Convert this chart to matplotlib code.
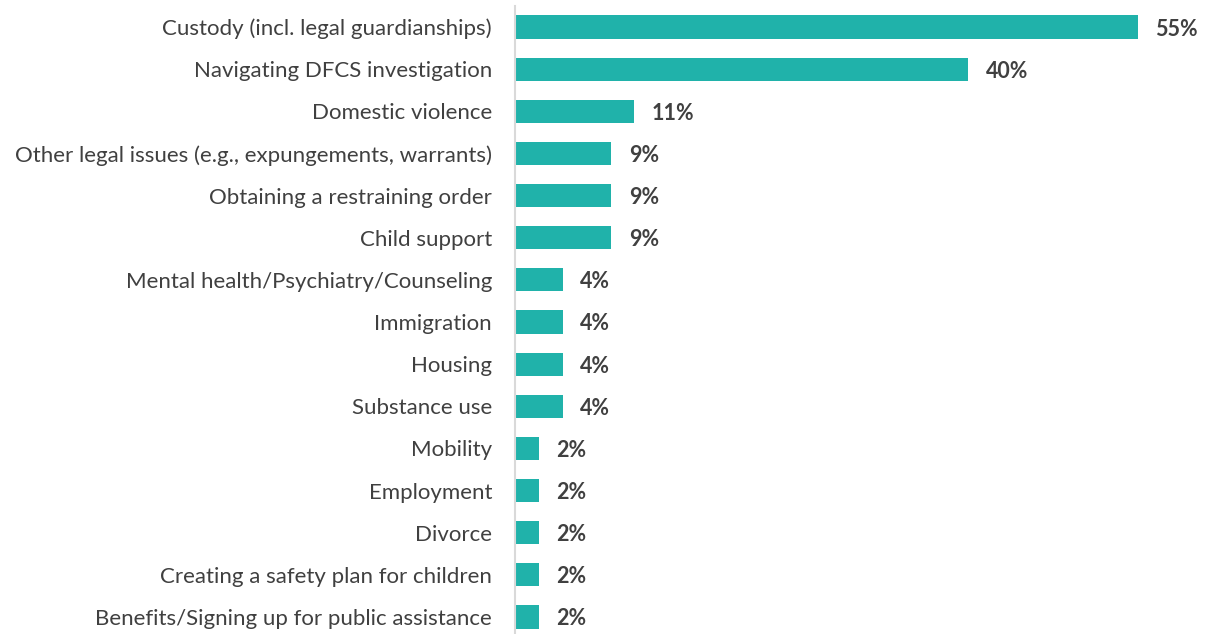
import matplotlib.pyplot as plt

categories = [
    "Custody (incl. legal guardianships)",
    "Navigating DFCS investigation",
    "Domestic violence",
    "Other legal issues (e.g., expungements, warrants)",
    "Obtaining a restraining order",
    "Child support",
    "Mental health/Psychiatry/Counseling",
    "Immigration",
    "Housing",
    "Substance use",
    "Mobility",
    "Employment",
    "Divorce",
    "Creating a safety plan for children",
    "Benefits/Signing up for public assistance",
]
values = [55, 40, 10.5, 8.5, 8.5, 8.5, 4.2, 4.2, 4.2, 4.2, 2.1, 2.1, 2.1, 2.1, 2.1]
value_labels = ["55%", "40%", "11%", "9%", "9%", "9%", "4%", "4%", "4%", "4%",
                "2%", "2%", "2%", "2%", "2%"]

plt.rcParams['font.family'] = ['Lato', 'DejaVu Sans']

fig = plt.figure(figsize=(12.07, 6.34), dpi=100)
ax = fig.add_axes([515 / 1207, -4 / 634, 692 / 1207, 632 / 634])

y = list(range(len(categories)))
ax.barh(y, values, height=0.55, color="#20B2AA")

for i, (v, lab) in enumerate(zip(values, value_labels)):
    ax.text(v + 1.55, i, lab, va="center_baseline", ha="left", fontsize=15.5,
            fontweight="bold", color="#404040")

ax.set_yticks(y)
ax.set_yticklabels(categories, fontsize=16, color="#404040",
                   va="center_baseline")
ax.tick_params(axis="y", length=0, pad=16.5)
ax.set_ylim(len(categories) - 0.5, -0.5)
ax.set_xlim(0, 61.1)
ax.set_xticks([])

for s in ["top", "right", "bottom"]:
    ax.spines[s].set_visible(False)
ax.spines["left"].set_color("#D9D9D9")
ax.spines["left"].set_linewidth(1.5)

fig.savefig("out.png", dpi=100)
